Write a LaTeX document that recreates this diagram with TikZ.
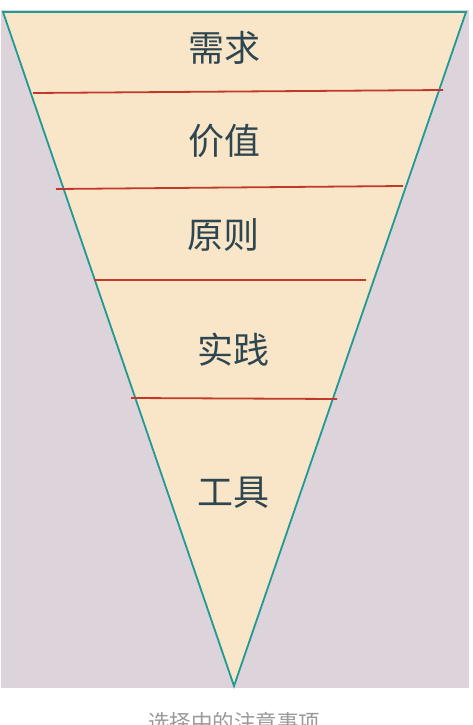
\documentclass[tikz,border=0pt]{standalone}
\usepackage{fontspec}
\newfontfamily\cjk{Noto Sans CJK SC}
\definecolor{bgpurple}{HTML}{DCD3DB}
\definecolor{peach}{HTML}{F9E5C7}
\definecolor{tealedge}{HTML}{1F9A95}
\definecolor{redline}{HTML}{C0392B}
\definecolor{labeltxt}{HTML}{2E4650}
\definecolor{captxt}{HTML}{9A9A9A}
\tikzset{
  layerlabel/.style={anchor=base, inner sep=0pt, font=\cjk\fontsize{36}{36}\selectfont, text=labeltxt},
  divider/.style={draw=redline, line width=1.8pt},
  funnel/.style={fill=peach, draw=tealedge, line width=1.8pt, line join=miter},
  captionlabel/.style={anchor=base, inner sep=0pt, font=\cjk\fontsize{21.5}{21.5}\selectfont, text=captxt}
}
\begin{document}
\begin{tikzpicture}[x=1pt,y=-1pt]
\useasboundingbox (0,0) rectangle (473,725);
\fill[white] (0,0) rectangle (473,725);
\fill[bgpurple] (1,10) rectangle (469,688);
% funnel triangle
\coordinate (tl) at (3,12);
\coordinate (tr) at (466,12);
\coordinate (apex) at (234,686);
\draw[funnel] (tl) -- (tr) -- (apex) -- cycle;
% dividers
\coordinate (d1l) at (33,93);   \coordinate (d1r) at (443,90);
\coordinate (d2l) at (56,189);  \coordinate (d2r) at (403,186);
\coordinate (d3l) at (94,280);  \coordinate (d3r) at (366,280);
\coordinate (d4l) at (131,398); \coordinate (d4r) at (337,399);
\draw[divider] (d1l) -- (d1r);
\draw[divider] (d2l) -- (d2r);
\draw[divider] (d3l) -- (d3r);
\draw[divider] (d4l) -- (d4r);
% labels
\node[layerlabel] (need) at (224,61) {需求};
\node[layerlabel] (value) at (224.5,154) {价值};
\node[layerlabel] (principle) at (223,248) {原则};
\node[layerlabel] (practice) at (233.5,363) {实践};
\node[layerlabel] (tool) at (233.5,505) {工具};
% caption
\node[captionlabel] (caption) at (234,730) {选择中的注意事项};
\end{tikzpicture}
\end{document}
